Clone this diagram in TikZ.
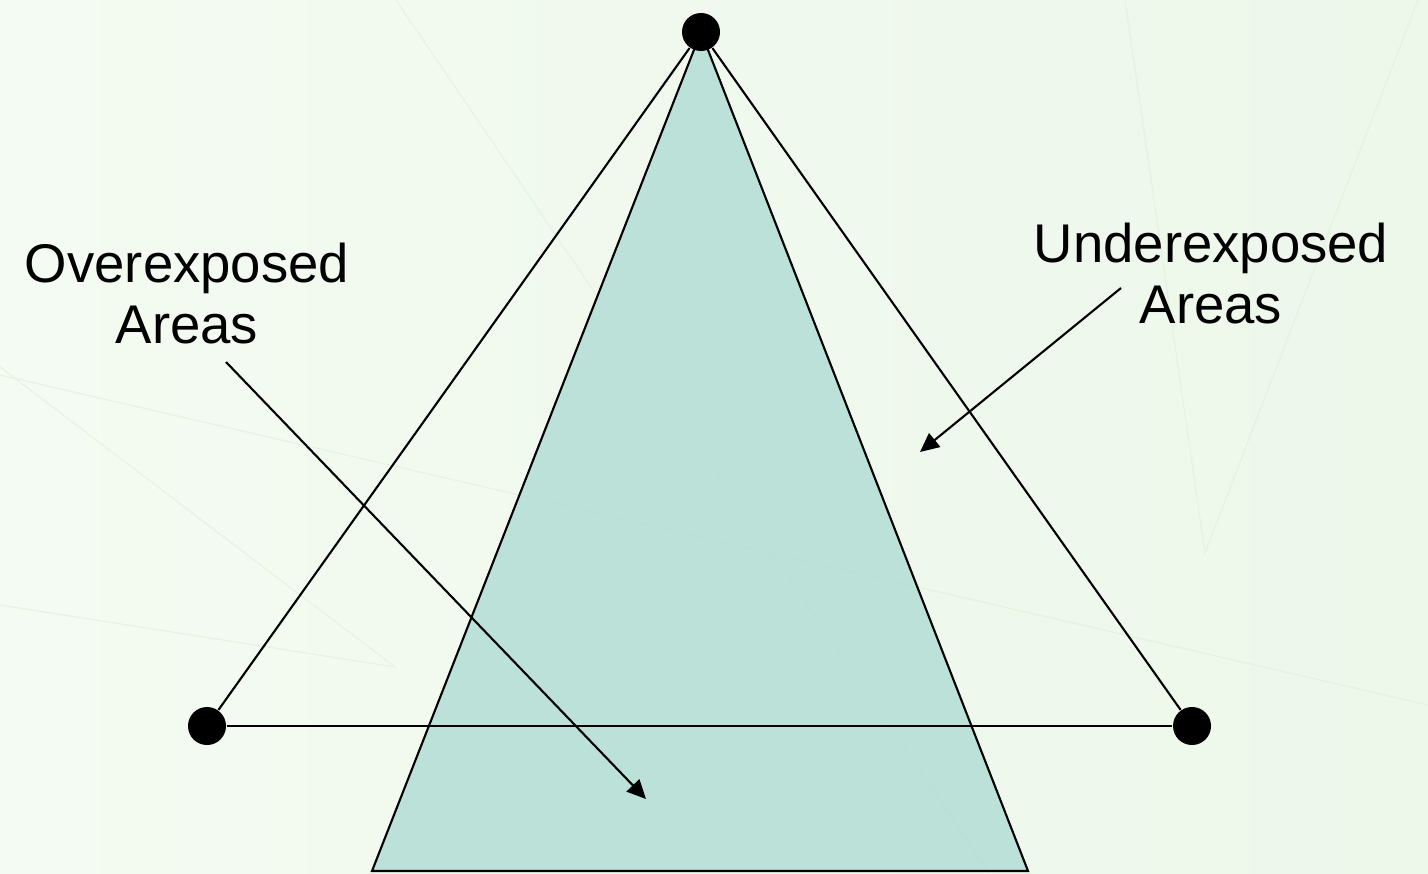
\documentclass[tikz,border=0pt]{standalone}
\usepackage{fontspec}
\setmainfont{Liberation Sans}
\usetikzlibrary{arrows.meta}
\definecolor{paper}{HTML}{F4FBF2}
\definecolor{paperdeep}{HTML}{EDF7EA}
\definecolor{paperline}{HTML}{E3F3DE}
\definecolor{beam}{HTML}{B2DDD5}

\begin{document}
\begin{tikzpicture}[x=0.01cm,y=-0.01cm,every node/.style={font=\fontsize{15.5}{17.3}\selectfont},lamp/.style={circle,fill=black,inner sep=0pt,minimum size=3.8mm},ray/.style={draw=black,line width=0.6pt},arr/.style={-{Triangle[length=5.4pt,width=5pt]},line width=0.6pt},lbl/.style={align=center,anchor=base}]
% background
\useasboundingbox (0,0) rectangle (1428,873);
\shade[left color=paper,right color=paperdeep] (0,0) rectangle (1428,873);
\draw[paperline,line width=0.3pt] (0,375) -- (1428,705);
\draw[paperline,line width=0.3pt] (0,367) -- (395,667) -- (0,605);
\draw[paperline,line width=0.3pt] (396,0) -- (989,873);
\draw[paperline,line width=0.3pt] (1125,0) -- (1205,553) -- (1418,0);
% light cone
\coordinate (apex) at (701,32);
\coordinate (bl) at (372,871);
\coordinate (br) at (1028,871);
\filldraw[fill=beam,fill opacity=0.85,ray] (apex) -- (bl) -- (br) -- cycle;
% lamps
\node[lamp] (top) at (apex) {};
\node[lamp] (lft) at (207,726) {};
\node[lamp] (rgt) at (1192,726) {};
\draw[ray] (top) -- (lft);\draw[ray] (top) -- (rgt);\draw[ray] (lft) -- (rgt);
% labels (base = last line)
\node[lbl] (over) at (187,343) {Overexposed\\Areas};
\node[lbl] (under) at (1211,323) {Underexposed\\Areas};
\coordinate (overtail) at (226,362);\coordinate (overtip) at (646,799);
\coordinate (undertail) at (1121,288);\coordinate (undertip) at (920,452);
\draw[arr] (overtail) -- (overtip);\draw[arr] (undertail) -- (undertip);
\end{tikzpicture}
\end{document}
